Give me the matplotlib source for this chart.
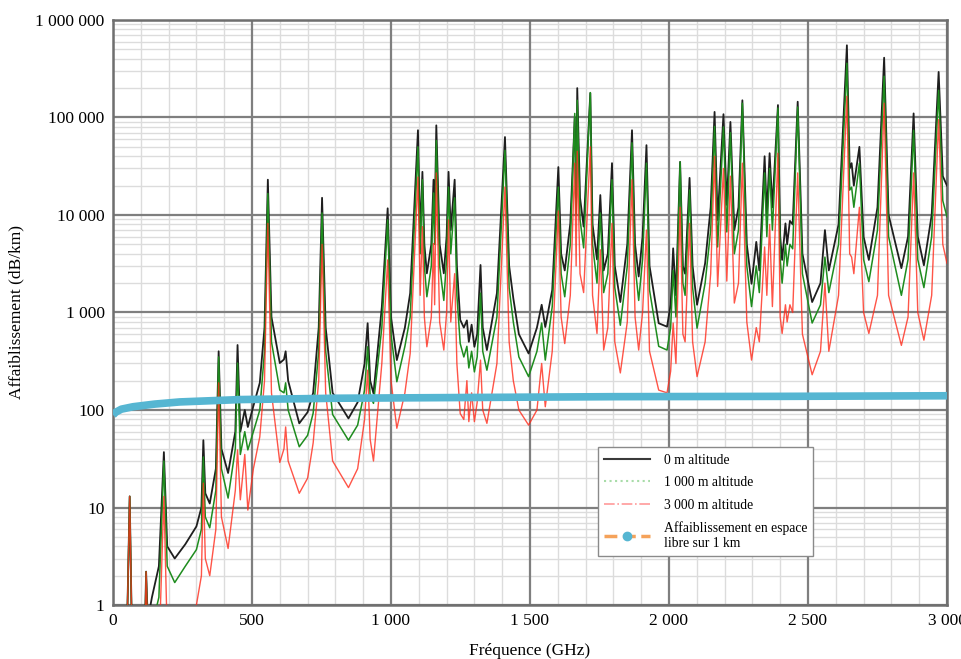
import numpy as np
import matplotlib
matplotlib.use("Agg")
import matplotlib.pyplot as plt
from matplotlib.lines import Line2D
from matplotlib.ticker import FixedLocator, FuncFormatter, LogLocator, NullFormatter

plt.rcParams['font.family'] = ['Liberation Serif', 'DejaVu Serif']

# frequencies (GHz) shared by the three altitude curves
freq_ghz = [
    50, 60, 68, 115, 119, 125, 140, 165, 183, 195,
    222, 260, 300, 318, 325, 332, 348, 370, 380, 390,
    414, 440, 448, 458, 474, 485, 505, 528, 545, 557,
    570, 600, 615, 621, 630, 670, 700, 720, 740, 752,
    765, 790, 847, 880, 905, 916, 925, 937, 967, 988,
    1000, 1021, 1050, 1069, 1097, 1105, 1113, 1120, 1129, 1145,
    1153, 1157, 1163, 1175, 1190, 1200, 1207, 1215, 1229, 1237,
    1249, 1262, 1273, 1280, 1290, 1300, 1310, 1322, 1330, 1345,
    1381, 1410, 1425, 1440, 1460, 1495, 1525, 1542, 1555, 1580,
    1602, 1612, 1625, 1645, 1661, 1666, 1670, 1680, 1693, 1717,
    1725, 1741, 1753, 1765, 1780, 1795, 1805, 1825, 1850, 1867,
    1878, 1891, 1905, 1919, 1930, 1963, 1993, 2006, 2015, 2025,
    2040, 2050, 2058, 2074, 2085, 2101, 2130, 2150, 2164, 2175,
    2196, 2208, 2221, 2235, 2250, 2264, 2280, 2297, 2314, 2325,
    2344, 2352, 2362, 2372, 2392, 2400, 2407, 2419, 2425, 2435,
    2445, 2463, 2480, 2515, 2545, 2561, 2575, 2610, 2640, 2650,
    2657, 2665, 2685, 2700, 2719, 2750, 2774, 2790, 2836, 2860,
    2880, 2895, 2917, 2945, 2970, 2985, 3000,
]

# attenuation dB/km at 0 m altitude
att_0m = [
    0.5, 13, 0.5, 0.6, 2.2, 0.7, 1.2, 2.5, 37, 4,
    3.0, 4.2, 6.4, 10, 49, 14, 11, 25, 400, 40,
    22.6, 60, 464, 60, 100, 67, 110, 190, 700, 23000,
    900, 303, 330, 400, 200, 73, 95, 150, 700, 15000,
    700, 150, 82, 120, 300, 776, 200, 148, 1140, 11700,
    900, 325, 700, 1580, 74000, 6000, 27700, 5000, 2520, 5000,
    23000, 8000, 83000, 5000, 2520, 6000, 27700, 7000, 23000, 3000,
    840, 700, 830, 500, 750, 445, 600, 3070, 700, 412,
    1580, 63000, 3000, 1400, 600, 380, 700, 1200, 710, 1700,
    31000, 4000, 2700, 8200, 100000, 15000, 200000, 15000, 7600, 178000,
    8000, 3500, 16000, 2700, 4000, 34000, 3000, 1280, 5000, 74000,
    5000, 2340, 6000, 52000, 3000, 776, 715, 1200, 4550, 1500,
    35000, 3000, 2500, 24000, 3000, 1200, 3200, 12000, 114000, 8900,
    108000, 12700, 90000, 7000, 12000, 150000, 5000, 1970, 5300, 2700,
    40000, 10000, 43000, 12000, 134000, 6000, 3460, 8200, 5000, 8700,
    8000, 145000, 4000, 1280, 2000, 7000, 2700, 8000, 550000, 30000,
    34000, 20000, 50000, 6000, 3460, 12000, 410000, 10000, 2850, 6000,
    110000, 6000, 3050, 10000, 293000, 25000, 20000,
]

# attenuation dB/km at 1 000 m altitude
att_1000m = [
    0.5, 13, 0.5, 0.5, 2.2, 0.5, 0.6, 1.2, 30, 2.5,
    1.7, 2.5, 3.7, 6, 33, 8, 6.2, 15, 350, 25,
    12.5, 40, 303, 35, 60, 39, 60, 100, 400, 16600,
    500, 160, 150, 190, 100, 42, 55, 93, 400, 10500,
    400, 90, 49, 70, 160, 445, 140, 117, 700, 8900,
    600, 195, 450, 900, 50000, 4000, 23000, 3000, 1450, 3000,
    16800, 5000, 58000, 3000, 1330, 3500, 19300, 4000, 15000, 1500,
    480, 350, 450, 270, 400, 246, 350, 1580, 400, 256,
    900, 46000, 1800, 800, 350, 220, 400, 780, 325, 1150,
    19300, 2500, 1450, 5000, 110000, 10000, 150000, 9000, 4600, 180000,
    5000, 2000, 10500, 1600, 2500, 23000, 1800, 740, 3000, 55000,
    3000, 1330, 3500, 34000, 1700, 450, 412, 700, 2700, 900,
    35000, 2000, 1500, 18000, 1800, 690, 2000, 7000, 81000, 4700,
    80000, 6700, 70000, 4000, 7000, 140000, 3000, 1150, 3000, 1600,
    27000, 6000, 30000, 7000, 125000, 3500, 2000, 5000, 3000, 5000,
    4500, 128000, 2500, 780, 1200, 3700, 1600, 5000, 360000, 18000,
    19300, 12000, 34000, 3500, 2070, 7000, 265000, 6000, 1500, 3500,
    74000, 3500, 1800, 6000, 190000, 14000, 9600,
]

# attenuation dB/km at 3 000 m altitude
att_3000m = [
    0.5, 13, 0.5, 0.5, 2.2, 0.5, 0.3, 0.3, 13, 0.5,
    0.3, 0.4, 1.0, 2, 17.8, 3, 2.0, 6, 190, 8,
    3.8, 15, 39, 12, 35, 9.4, 25, 53, 200, 8200,
    150, 29, 40, 67, 30, 14, 20, 46, 200, 5000,
    150, 30, 16, 25, 80, 256, 50, 30, 300, 3460,
    200, 65, 150, 380, 24500, 1500, 7600, 900, 445, 900,
    5100, 1200, 27000, 800, 412, 1000, 8900, 800, 2500, 300,
    92, 80, 200, 76, 150, 76, 120, 325, 100, 73,
    300, 19300, 500, 200, 100, 70, 100, 300, 108, 400,
    11000, 900, 480, 1500, 34000, 3000, 45000, 2500, 1600, 50000,
    1500, 610, 4400, 412, 700, 8200, 500, 240, 800, 23000,
    900, 412, 1000, 7000, 400, 160, 150, 250, 780, 300,
    12000, 600, 500, 8200, 500, 220, 500, 2500, 40000, 1850,
    30000, 2100, 25000, 1250, 2000, 34000, 800, 325, 700, 500,
    4700, 1500, 8000, 1150, 43000, 900, 610, 1200, 800, 1200,
    1000, 27000, 600, 230, 400, 2000, 400, 1500, 165000, 4000,
    3700, 2500, 12000, 1000, 610, 1500, 140000, 1500, 460, 900,
    27000, 1000, 520, 1500, 95000, 5000, 3200,
]

# free space loss over 1 km
fs_freq = [0, 10, 30, 72, 150, 240, 460, 800, 1200, 1800, 2400, 3000]
fs_loss = [89, 95, 102, 108, 115, 121, 128, 132, 134, 137, 138, 140]

labels = ["0 m altitude", "1 000 m altitude", "3 000 m altitude",
          "Affaiblissement en espace\nlibre sur 1 km"]

fig = plt.figure(figsize=(9.61, 6.59), dpi=100)
ax = fig.add_axes([0.1176, 0.0819, 0.8678, 0.8878])

ax.plot(freq_ghz, att_0m, color='#1e1e1e', lw=1.3, zorder=3)
ax.plot(freq_ghz, att_1000m, color='#1e8c1e', lw=1.1, zorder=4)
ax.plot(freq_ghz, att_3000m, color='#ff2a1a', lw=1.0, alpha=0.8, zorder=5)
ax.plot(fs_freq, fs_loss, color='#56b6d2', lw=5.5, solid_capstyle='butt', zorder=6)

ax.set_yscale('log')
ax.set_xlim(0, 3000)
ax.set_ylim(1, 1e6)

x_major = list(range(0, 3001, 500))
y_major = [10.0 ** k for k in range(0, 7)]
ax.xaxis.set_major_locator(FixedLocator(x_major))
ax.xaxis.set_minor_locator(FixedLocator([f for f in range(0, 3001, 100) if f % 500]))
ax.xaxis.set_major_formatter(FuncFormatter(lambda v, _: f"{int(v):,}".replace(",", " ")))
ax.yaxis.set_major_locator(FixedLocator(y_major))
ax.yaxis.set_minor_locator(LogLocator(base=10, subs=np.arange(2, 10), numticks=20))
ax.yaxis.set_major_formatter(FuncFormatter(lambda v, _: f"{int(round(v)):,}".replace(",", " ")))
ax.yaxis.set_minor_formatter(NullFormatter())

# light minor grid behind, darker major grid drawn on top of it
ax.grid(which='minor', color='#dcdcdc', lw=1.0, ls='-')
ax.set_axisbelow(True)
for xv in x_major:
    ax.axvline(xv, color='#7f7f7f', lw=1.6, zorder=1)
for yv in y_major:
    ax.axhline(yv, color='#7f7f7f', lw=1.6, zorder=1)

ax.tick_params(which='both', length=0, labelsize=12.5, pad=6)
for s in ax.spines.values():
    s.set_color('#6f6f6f')
    s.set_linewidth(1.8)

ax.set_xlabel("Fréquence (GHz)", fontsize=12.5, labelpad=10)
ax.set_ylabel("Affaiblissement (dB/km)", fontsize=12.5, labelpad=8)

handles = [
    Line2D([], [], color='#3a3a3a', lw=1.5),
    Line2D([], [], color='#a8dca8', lw=1.5, ls=':'),
    Line2D([], [], color='#ff9a9a', lw=1.2, ls='-.'),
    Line2D([], [], color='#f5a25a', lw=2.5, ls='--', marker='o',
           markersize=6, markerfacecolor='#56b6d2', markeredgecolor='#56b6d2'),
]
leg = ax.legend(handles, labels, loc='upper left', bbox_to_anchor=(0.573, 0.281),
                fontsize=9.8, frameon=True, fancybox=False, framealpha=1,
                edgecolor='#8a8a8a', labelspacing=0.7, handlelength=3.4,
                borderpad=0.45, handletextpad=1.0)
leg.get_frame().set_linewidth(1.0)
leg.set_zorder(10)

fig.savefig("out.png", dpi=100)
